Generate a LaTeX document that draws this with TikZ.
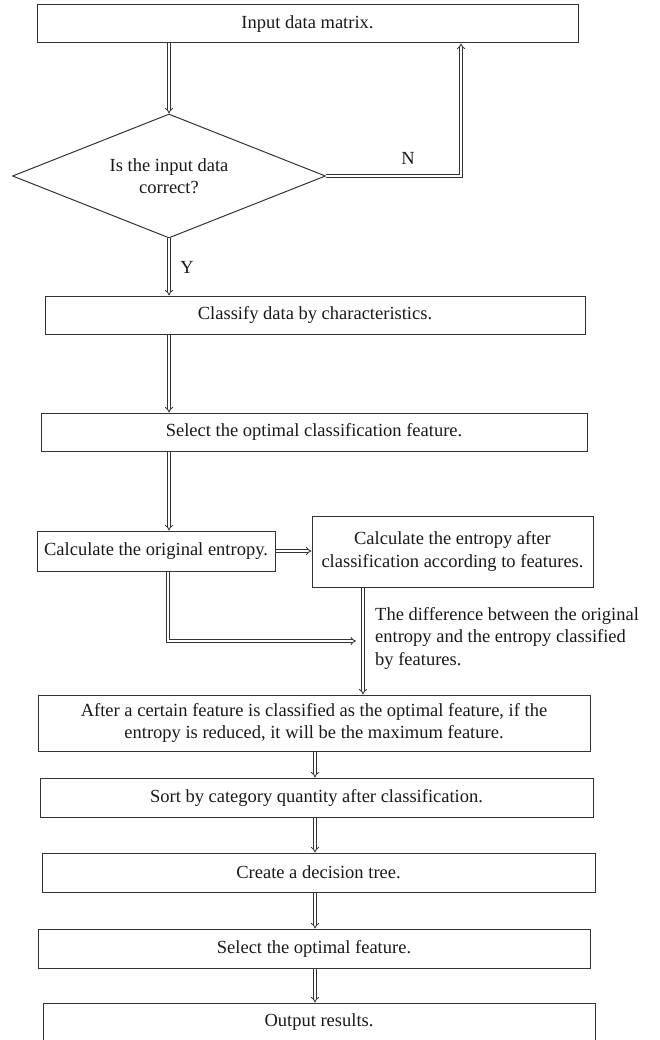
\documentclass[tikz,border=0pt]{standalone}
\usepackage{fontspec}
\setmainfont{Liberation Serif}
\usetikzlibrary{shapes.geometric,arrows.meta}
\begin{document}
\begin{tikzpicture}[x=1pt,y=-1pt,
  every node/.style={font=\fontsize{18.5}{22.5}\selectfont, text=black!90},
  box/.style={draw=black!80, line width=1pt, inner sep=0pt, align=center},
  dbl/.style={draw=black!80, line width=0.8pt, double=white, double distance=2pt, -{Implies}},
  lbl/.style={inner sep=0pt}]
\useasboundingbox (0,0) rectangle (659,1040);
% boxes
\node[box, minimum width=541pt, minimum height=38pt] (b1) at (307.5,24) {Input data matrix.};
\node[box, diamond, minimum width=313pt, minimum height=124pt, aspect=2.52] (dia) at (169,176) {Is the input data\\correct?};
\node[box, minimum width=540pt, minimum height=38pt] (b2) at (315,315) {Classify data by characteristics.};
\node[box, minimum width=546pt, minimum height=38pt] (b3) at (314,432) {Select the optimal classification feature.};
\node[box, minimum width=238pt, minimum height=40pt] (b4) at (156,551) {Calculate the original entropy.};
\node[box, minimum width=281pt, minimum height=71pt] (b5) at (452.5,551.5) {Calculate the entropy after\\classification according to features.};
\node[box, minimum width=552pt, minimum height=56pt] (b6) at (314,723) {After a certain feature is classified as the optimal feature, if the\\entropy is reduced, it will be the maximum feature.};
\node[box, minimum width=553pt, minimum height=39pt] (b7) at (316.5,797.5) {Sort by category quantity after classification.};
\node[box, minimum width=553pt, minimum height=39pt] (b8) at (318.5,872.5) {Create a decision tree.};
\node[box, minimum width=552pt, minimum height=39pt] (b9) at (314,948.5) {Select the optimal feature.};
\node[box, minimum width=552pt, minimum height=38pt] (b10) at (319,1022) {Output results.};
% labels
\node[lbl] (ln) at (408,158) {N};
\node[lbl] (ly) at (187,267) {Y};
\node[lbl, anchor=west, align=left] (ld) at (375,638) {The difference between the original\\entropy and the entropy classified\\by features.};
% coordinates
\coordinate (n1) at (461,176);
\coordinate (c1) at (168,641);
\coordinate (c2) at (356,641);
% connectors
\draw[dbl] (169,0 |- b1.south) -- (dia.north);
\draw[dbl] (dia.east) -- (n1) -- (n1 |- b1.south);
\draw[dbl] (dia.south) -- (169,0 |- b2.north);
\draw[dbl] (169,0 |- b2.south) -- (169,0 |- b3.north);
\draw[dbl] (169,0 |- b3.south) -- (169,0 |- b4.north);
\draw[dbl] (b4.east) -- (b4.east -| b5.west);
\draw[dbl] (c1 |- b4.south) -- (c1) -- (c2);
\draw[dbl] (363,0 |- b5.south) -- (363,0 |- b6.north);
\draw[dbl] (315,0 |- b6.south) -- (315,0 |- b7.north);
\draw[dbl] (315,0 |- b7.south) -- (315,0 |- b8.north);
\draw[dbl] (315,0 |- b8.south) -- (315,0 |- b9.north);
\draw[dbl] (315,0 |- b9.south) -- (315,0 |- b10.north);
\end{tikzpicture}
\end{document}
